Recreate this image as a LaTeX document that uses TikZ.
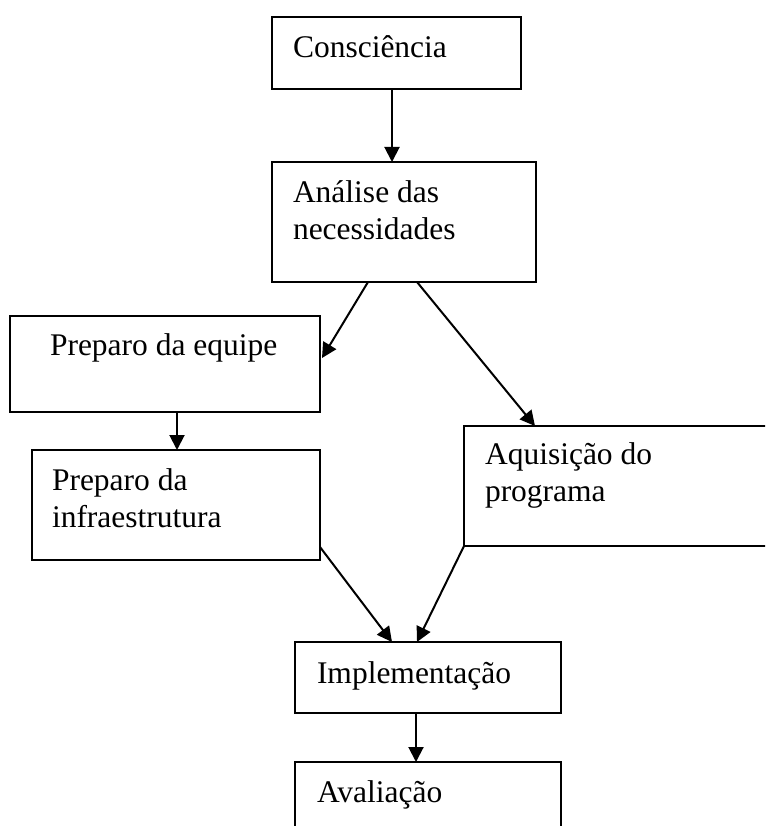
\documentclass[tikz,border=0pt]{standalone}
\usepackage{fontspec}
\setmainfont{Liberation Serif}
\usetikzlibrary{arrows.meta}
\begin{document}
\begin{tikzpicture}[x=1pt,y=-1pt,
  box/.style={draw=black, line width=2pt, rectangle, inner sep=0pt, outer sep=0pt, anchor=north west},
  txt/.style={inner sep=0pt, outer sep=0pt, anchor=base west, font=\fontsize{31.5}{37}\selectfont},
  arr/.style={line width=2pt, -{Triangle[length=15pt, width=15pt]}}]
\useasboundingbox (0,0) rectangle (765,826);
\clip (0,0) rectangle (765,826);
% boxes
\node[box, minimum width=249pt, minimum height=72pt] (cons) at (272,17) {};
\node[box, minimum width=264pt, minimum height=120pt] (anal) at (272,162) {};
\node[box, minimum width=310pt, minimum height=96pt] (equipe) at (10,316) {};
\node[box, minimum width=288pt, minimum height=110pt] (infra) at (32,450) {};
\node[box, minimum width=340pt, minimum height=120pt] (aquis) at (464,426) {};
\node[box, minimum width=266pt, minimum height=71pt] (impl) at (295,642) {};
\node[box, minimum width=266pt, minimum height=100pt] (aval) at (295,762) {};
% texts
\node[txt] (t1) at (293,58) {Consciência};
\node[txt] (t2a) at (293,203) {Análise das};
\node[txt] (t2b) at (293,240) {necessidades};
\node[txt] (t3) at (50,355) {Preparo da equipe};
\node[txt] (t4a) at (52,490) {Preparo da};
\node[txt] (t4b) at (52,527) {infraestrutura};
\node[txt] (t5a) at (485,464) {Aquisição do};
\node[txt] (t5b) at (485,501) {programa};
\node[txt] (t6) at (317,683) {Implementação};
\node[txt] (t7) at (317,802) {Avaliação};
% connectors
\draw[arr] ([xshift=120pt]cons.south west) -- ([xshift=120pt]anal.north west);
\draw[arr] ([xshift=96pt]anal.south west) -- ([xshift=2pt,yshift=6pt]equipe.east);
\draw[arr] ([xshift=145pt]anal.south west) -- ([xshift=71pt]aquis.north west);
\draw[arr] ([xshift=167pt]equipe.south west) -- ([xshift=145pt]infra.north west);
\draw[arr] ([yshift=13pt]infra.south east) -- ([xshift=97pt]impl.north west);
\draw[arr] (aquis.south west) -- ([xshift=122pt]impl.north west);
\draw[arr] ([xshift=121pt]impl.south west) -- ([xshift=121pt]aval.north west);
\end{tikzpicture}
\end{document}
